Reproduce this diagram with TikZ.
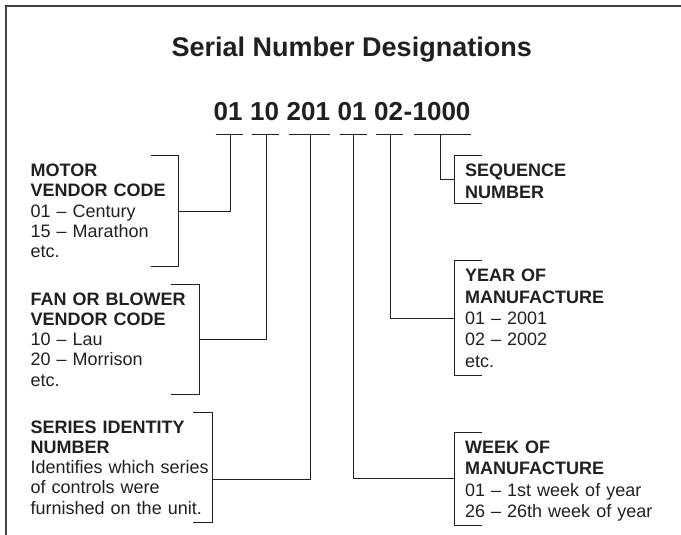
\documentclass[tikz,border=0pt]{standalone}
\usepackage{fontspec}
\setmainfont{Liberation Sans}
\usetikzlibrary{positioning}
\definecolor{InkGrey}{RGB}{35,31,32}
\tikzset{
  frame/.style={draw=InkGrey!85,line width=1.5pt},
  tie/.style={draw=InkGrey,line width=1pt},
  digits/.style={font=\fontsize{26}{30}\selectfont\bfseries,inner sep=0pt,
    text=InkGrey},
  leftnote/.style={font=\fontsize{18}{20.3}\selectfont,align=left,
    inner xsep=0pt,inner ysep=8pt,anchor=base west,text=InkGrey},
  rightnote/.style={font=\fontsize{18}{21.4}\selectfont,align=left,
    inner xsep=11pt,inner ysep=8pt,anchor=base west,text=InkGrey,
    text width=200pt}
}

\begin{document}
\begin{tikzpicture}[x=1pt,y=-1pt]
  \useasboundingbox (0,0) rectangle (681,535);
  \draw[frame] (681,6) -- (6,6) -- (6,535);

  \node[anchor=base west,inner sep=0pt,text=InkGrey,
    font=\fontsize{27}{32}\selectfont\bfseries] (title) at (171.5,57)
    {Serial Number Designations};

  % the number, one node per field
  \node[digits,anchor=base west] (motorno) at (213.5,121) {01};
  \node[digits,base right=7.2pt of motorno] (fanno) {10};
  \node[digits,base right=7.2pt of fanno] (seriesno) {201};
  \node[digits,base right=7.2pt of seriesno] (weekno) {01};
  \node[digits,base right=7.2pt of weekno] (yearno) {02};
  \node[digits,base right=0pt of yearno] (dash) {-};
  \node[digits,base right=0pt of dash] (seqno) {1000};

  % left notes
  \node[leftnote,text width=147.5pt] (motor) at (30.5,176.7)
    {\textbf{MOTOR}\\\textbf{VENDOR CODE}\\01 – Century\\15 – Marathon\\etc.};
  \node[leftnote,text width=168.5pt] (fan) at (30.5,305)
    {\textbf{FAN OR BLOWER}\\\textbf{VENDOR CODE}\\10 – Lau\\20 – Morrison\\etc.};
  \node[leftnote,text width=181.5pt] (series) at (30.5,433)
    {\textbf{SERIES IDENTITY}\\\textbf{NUMBER}\\Identifies which series\\
     of controls were\\furnished on the unit.};

  % right notes
  \node[rightnote] (seq) at (454,176.7)
    {\textbf{SEQUENCE}\\\textbf{NUMBER}};
  \node[rightnote] (year) at (454,281.7)
    {\textbf{YEAR OF}\\\textbf{MANUFACTURE}\\01 – 2001\\02 – 2002\\etc.};
  \node[rightnote] (week) at (454,453.3)
    {\textbf{WEEK OF}\\\textbf{MANUFACTURE}\\01 – 1st week of year\\
     26 – 26th week of year};

  % brackets
  \draw[tie] ([xshift=-27pt]motor.north east) -- (motor.north east)
    -- (motor.south east) -- ([xshift=-27pt]motor.south east);
  \draw[tie] ([xshift=-28pt]fan.north east) -- (fan.north east)
    -- (fan.south east) -- ([xshift=-28pt]fan.south east);
  \draw[tie] ([xshift=-19pt]series.north east) -- (series.north east)
    -- (series.south east) -- ([xshift=-19pt]series.south east);
  \draw[tie] ([xshift=28pt]seq.north west) -- (seq.north west)
    -- ([yshift=3pt]seq.south west) -- ([shift={(28pt,3pt)}]seq.south west);
  \draw[tie] ([xshift=28pt]year.north west) -- (year.north west)
    -- (year.south west) -- ([xshift=28pt]year.south west);
  \draw[tie] ([xshift=28pt]week.north west) -- (week.north west)
    -- ([yshift=4pt]week.south west) -- ([shift={(28pt,4pt)}]week.south west);

  % bars under the fields
  \foreach \g in {motorno,fanno,seriesno,weekno,yearno,seqno}
    \draw[tie] ([shift={(2pt,-14pt)}]\g.base west)
      -- ([shift={(0pt,-14pt)}]\g.base east);

  % connectors
  \draw[tie] ([shift={(2pt,-14pt)}]motorno.base) |- (motor.east);
  \draw[tie] ([shift={(2pt,-14pt)}]fanno.base) |- (fan.east);
  \draw[tie] ([shift={(2pt,-14pt)}]seriesno.base) |- ([yshift=-12pt]series.east);
  \draw[tie] ([shift={(1pt,-14pt)}]weekno.base) |- ([yshift=2pt]week.west);
  \draw[tie] ([shift={(2pt,-14pt)}]yearno.base) |- (year.west);
  \draw[tie] ([shift={(-1pt,-14pt)}]seqno.base) |- ([yshift=2pt]seq.west);
\end{tikzpicture}
\end{document}
